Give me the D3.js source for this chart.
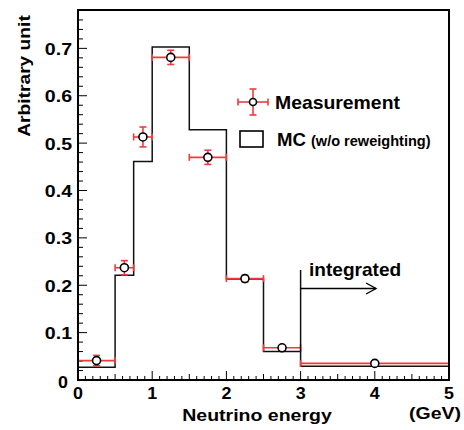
<!DOCTYPE html>
<html><head><meta charset="utf-8">
<script src="https://cdn.jsdelivr.net/npm/d3@7"></script>
<style>body{margin:0;background:#fff}svg{display:block}text{font-family:"Liberation Sans",Arial,sans-serif;font-weight:bold}</style>
</head><body><svg id="c" width="464" height="430"></svg>
<script>
const binEdges = [0, 0.5, 0.75, 1.0, 1.5, 2.0, 2.5, 3.0, 5.0];
const mcValues = [0.027, 0.221, 0.461, 0.703, 0.528, 0.213, 0.060, 0.029];
const measX = [0.25, 0.625, 0.875, 1.25, 1.75, 2.25, 2.75, 4.0];
const measY = [0.041, 0.237, 0.513, 0.681, 0.470, 0.214, 0.068, 0.035];
const measErr = [0.011, 0.015, 0.021, 0.015, 0.015, 0.007, 0.005, 0.003];
const xTicks = [0, 1, 2, 3, 4, 5];
const yTicks = [0, 0.1, 0.2, 0.3, 0.4, 0.5, 0.6, 0.7];

const svg = d3.select("#c");
const L = 78, R = 449, T = 10, B = 380;
const x = d3.scaleLinear().domain([0, 5]).range([L, R]);
const y = d3.scaleLinear().domain([0, 0.781]).range([B, T]);
const red = "#ef3b3f";

function txt(px, py, s, size, anchor, sx, rot) {
  const gg = svg.append("g").attr("transform", `translate(${px},${py}) rotate(${rot || 0}) scale(${sx},1)`);
  return gg.append("text").attr("x", 0).attr("y", 0).attr("text-anchor", anchor).attr("font-size", size).text(s);
}

// ticks
const g = svg.append("g");
d3.range(0, 5.0001, 0.1).forEach(v => {
  const vv = Math.round(v * 10) / 10;
  const len = (Math.abs(vv - Math.round(vv)) < 1e-6) ? 9 : (Math.abs(vv * 2 - Math.round(vv * 2)) < 1e-6 ? 6 : 4);
  g.append("line").attr("x1", x(vv)).attr("x2", x(vv)).attr("y1", B).attr("y2", B - len)
    .attr("stroke", "#000").attr("stroke-width", 1);
});
d3.range(0, 0.781, 0.02).forEach(v => {
  const vv = Math.round(v * 100) / 100;
  const major = Math.abs(vv * 10 - Math.round(vv * 10)) < 1e-6;
  g.append("line").attr("x1", L).attr("x2", L + (major ? 9 : 5)).attr("y1", y(vv)).attr("y2", y(vv))
    .attr("stroke", "#000").attr("stroke-width", 1);
});

// tick labels
xTicks.forEach(v => txt(x(v), 399, String(v), 17, "middle", 1.05));
yTicks.forEach(v => {
  if (v === 0) txt(68, 388, "0", 17, "end", 1.05);
  else txt(72, y(v) + 6.5, v.toFixed(1), 17, "end", 1.15);
});

// MC histogram
let pts = [[binEdges[0], 0]];
mcValues.forEach((v, i) => { pts.push([binEdges[i], v]); pts.push([binEdges[i + 1], v]); });
pts.push([binEdges[binEdges.length - 1], 0]);
svg.append("path").attr("d", d3.line().x(d => x(d[0])).y(d => y(d[1]))(pts))
  .attr("fill", "none").attr("stroke", "#111").attr("stroke-width", 1.5);

// measurement
measX.forEach((mx, i) => {
  const lo = binEdges[i], hi = binEdges[i + 1];
  const cy = y(measY[i]);
  const eg = svg.append("g").attr("stroke", red).attr("stroke-width", 1.6);
  eg.append("line").attr("x1", x(lo)).attr("x2", x(hi)).attr("y1", cy).attr("y2", cy);
  eg.append("line").attr("x1", x(lo)).attr("x2", x(lo)).attr("y1", cy - 3.5).attr("y2", cy + 3.5);
  eg.append("line").attr("x1", x(hi)).attr("x2", x(hi)).attr("y1", cy - 3.5).attr("y2", cy + 3.5);
  const e1 = y(measY[i] + measErr[i]), e2 = y(measY[i] - measErr[i]);
  eg.append("line").attr("x1", x(mx)).attr("x2", x(mx)).attr("y1", e1).attr("y2", e2);
  eg.append("line").attr("x1", x(mx) - 3.5).attr("x2", x(mx) + 3.5).attr("y1", e1).attr("y2", e1);
  eg.append("line").attr("x1", x(mx) - 3.5).attr("x2", x(mx) + 3.5).attr("y1", e2).attr("y2", e2);
  svg.append("circle").attr("cx", x(mx)).attr("cy", cy).attr("r", 4)
    .attr("fill", "#fff").attr("stroke", "#000").attr("stroke-width", 1.6);
});

// frame
svg.append("rect").attr("x", L).attr("y", T).attr("width", R - L).attr("height", B - T)
  .attr("fill", "none").attr("stroke", "#000").attr("stroke-width", 2);

// integrated annotation
svg.append("line").attr("x1", x(3)).attr("x2", x(3)).attr("y1", 270).attr("y2", y(mcValues[6]))
  .attr("stroke", "#111").attr("stroke-width", 1.5);
svg.append("line").attr("x1", x(3)).attr("x2", 376).attr("y1", 288.5).attr("y2", 288.5)
  .attr("stroke", "#000").attr("stroke-width", 1.4);
svg.append("path").attr("d", "M366,283 L376,288.5 L366,294").attr("fill", "none")
  .attr("stroke", "#000").attr("stroke-width", 1.4);
txt(309, 276, "integrated", 18, "start", 1.06);

// legend
const lx = 253, ly = 102;
const lg = svg.append("g").attr("stroke", red).attr("stroke-width", 1.6);
lg.append("line").attr("x1", lx - 15).attr("x2", lx + 15).attr("y1", ly).attr("y2", ly);
lg.append("line").attr("x1", lx - 15).attr("x2", lx - 15).attr("y1", ly - 3.5).attr("y2", ly + 3.5);
lg.append("line").attr("x1", lx + 15).attr("x2", lx + 15).attr("y1", ly - 3.5).attr("y2", ly + 3.5);
lg.append("line").attr("x1", lx).attr("x2", lx).attr("y1", ly - 13).attr("y2", ly + 13);
lg.append("line").attr("x1", lx - 3.5).attr("x2", lx + 3.5).attr("y1", ly - 13).attr("y2", ly - 13);
lg.append("line").attr("x1", lx - 3.5).attr("x2", lx + 3.5).attr("y1", ly + 13).attr("y2", ly + 13);
svg.append("circle").attr("cx", lx).attr("cy", ly).attr("r", 3.5).attr("fill", "#fff")
  .attr("stroke", "#000").attr("stroke-width", 1.6);
txt(275, 109, "Measurement", 19, "start", 1.02);
svg.append("rect").attr("x", 240).attr("y", 131).attr("width", 23).attr("height", 16)
  .attr("fill", "#fff").attr("stroke", "#000").attr("stroke-width", 1.6);
txt(277, 146, "MC", 19, "start", 0.98);
txt(311, 146, "(w/o reweighting)", 14, "start", 1.04);

// axis titles
txt(257, 421, "Neutrino energy", 16, "middle", 1.22);
txt(435, 419, "(GeV)", 16, "middle", 1.22);
txt(30, 76, "Arbitrary unit", 17, "middle", 1.13, -90);
</script></body></html>
